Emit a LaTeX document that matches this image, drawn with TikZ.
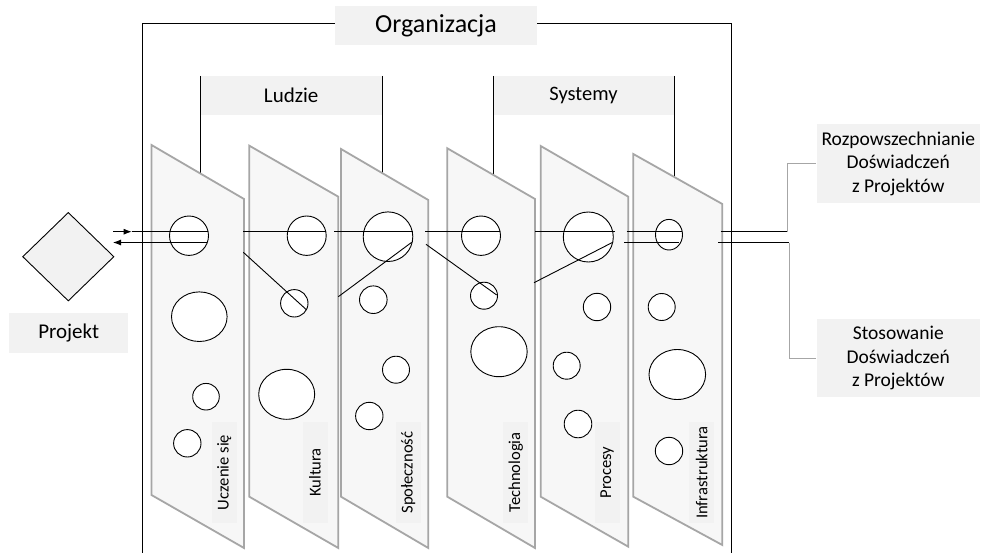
\documentclass[tikz,border=0pt]{standalone}
\usepackage{fontspec}
\setmainfont{Carlito}
\usetikzlibrary{shapes.geometric,arrows.meta}
\begin{document}
\begin{tikzpicture}[x=1pt,y=-1pt,
  frame/.style={draw=black, line width=1pt},
  panel/.style={draw=black!35, line width=1.8pt, fill=black!3, line join=miter},
  hole/.style={draw=black, line width=0.9pt, fill=white, ellipse, inner sep=0pt, outer sep=0pt},
  lbl/.style={fill=black!5, inner sep=0pt, align=center},
  vlbl/.style={fill=black!5, inner sep=0pt, rotate=90, minimum width=101pt, minimum height=25pt, font=\fontsize{16.6}{19}\selectfont},
  conn/.style={draw=black, line width=0.9pt},
  lead/.style={draw=black!35, line width=1pt},
  tip/.style={-{Latex[length=8pt,width=6pt]}}]
\useasboundingbox (0,0) rectangle (981,553);
\fill[white] (0,0) rectangle (981,553);

% Organizacja frame
\coordinate (ob1) at (142,553);
\coordinate (ot1) at (142,24);
\coordinate (ot2) at (731,24);
\coordinate (ob2) at (731,553);
\draw[frame] (ob1) -- (ot1) -- (ot2) -- (ob2);
\node[lbl, minimum width=202pt, minimum height=39pt, font=\fontsize{26}{30}\selectfont] (org) at (436,25.5) {Organizacja};

% group brackets
\coordinate (l1t) at (200.5,76); \coordinate (l1b) at (200.5,185);
\coordinate (l2t) at (382,76); \coordinate (l2b) at (382,185);
\coordinate (s1t) at (493,76); \coordinate (s1b) at (493,185);
\coordinate (s2t) at (674,76); \coordinate (s2b) at (674,185);
\draw[frame] (l1t) -- (l1b); \draw[frame] (l2t) -- (l2b);
\draw[frame] (s1t) -- (s1b); \draw[frame] (s2t) -- (s2b);
\node[lbl, minimum width=181pt, minimum height=39pt, font=\fontsize{21}{25}\selectfont] (ludzie) at (291.2,95.5) {Ludzie};
\node[lbl, minimum width=180pt, minimum height=39pt, font=\fontsize{20.5}{25}\selectfont] (systemy) at (583.5,95.5) {Systemy};

% panels
\draw[panel] (151.5,145) -- (244,199) -- (244,548) -- (151.5,495) -- cycle;
\draw[panel] (249.3,145.7) -- (338.3,196.7) -- (338.3,548) -- (249.3,496.7) -- cycle;
\draw[panel] (341,149) -- (428.3,200) -- (428.3,548) -- (341,496.7) -- cycle;
\draw[panel] (447.3,148.3) -- (535,199) -- (535,548) -- (447.3,496.7) -- cycle;
\draw[panel] (540.7,146) -- (628.3,196.7) -- (628.3,546.7) -- (540.7,496.7) -- cycle;
\draw[panel] (633.3,154) -- (722.3,204) -- (722.3,545) -- (633.3,496.7) -- cycle;

% holes
\node[hole, minimum width=39pt, minimum height=39.4pt] (c11) at (189,235.7) {};
\node[hole, minimum width=55.6pt, minimum height=49.6pt] (c12) at (199.3,316.7) {};
\node[hole, minimum width=26.6pt, minimum height=26.6pt] (c13) at (206,396.7) {};
\node[hole, minimum width=27.4pt, minimum height=27.4pt] (c14) at (187.3,443.3) {};

\node[hole, minimum width=39pt, minimum height=39.4pt] (c21) at (306.7,235.7) {};
\node[hole, minimum width=27.4pt, minimum height=27.4pt] (c22) at (294.3,303.3) {};
\node[hole, minimum width=56pt, minimum height=50pt] (c23) at (286.7,394.3) {};

\node[hole, minimum width=49.6pt, minimum height=49.6pt] (c31) at (388,236.7) {};
\node[hole, minimum width=27.6pt, minimum height=27.6pt] (c32) at (373.3,299.7) {};
\node[hole, minimum width=27pt, minimum height=27pt] (c33) at (396,369.7) {};
\node[hole, minimum width=27.4pt, minimum height=27.4pt] (c34) at (369.3,416) {};

\node[hole, minimum width=39pt, minimum height=39.4pt] (c41) at (481,235.7) {};
\node[hole, minimum width=27pt, minimum height=27pt] (c42) at (484,295.7) {};
\node[hole, minimum width=56.4pt, minimum height=50pt] (c43) at (499,351.7) {};

\node[hole, minimum width=50pt, minimum height=50pt] (c51) at (588.3,237) {};
\node[hole, minimum width=27.4pt, minimum height=27.4pt] (c52) at (597,307) {};
\node[hole, minimum width=27pt, minimum height=27pt] (c53) at (566.7,365.7) {};
\node[hole, minimum width=27.6pt, minimum height=27.6pt] (c54) at (578,424) {};

\node[hole, minimum width=27pt, minimum height=30.6pt] (c61) at (669,234.7) {};
\node[hole, minimum width=27pt, minimum height=27pt] (c62) at (661.7,307) {};
\node[hole, minimum width=56.6pt, minimum height=50pt] (c63) at (677.3,374.5) {};
\node[hole, minimum width=27.4pt, minimum height=27.4pt] (c64) at (669,451) {};

% vertical labels
\node[vlbl] (lu) at (224.2,472.5) {Uczenie się};
\node[vlbl] (lk) at (315,472.5) {Kultura};
\node[vlbl] (ls) at (408.3,472.5) {Społeczność};
\node[vlbl] (lt) at (515.8,472.5) {Technologia};
\node[vlbl] (lp) at (607.2,472.5) {Procesy};
\node[vlbl] (li) at (701.7,472.5) {Infrastruktura};

% Projekt
\node[diamond, draw=black, line width=0.9pt, fill=black!5, minimum width=91.4pt, minimum height=88.6pt, inner sep=0pt] (proj) at (68.3,256.7) {};
\node[lbl, minimum width=119.3pt, minimum height=39.4pt, font=\fontsize{21}{25}\selectfont] (projl) at (68.7,333) {Projekt};

% right labels
\node[lbl, minimum width=163.3pt, minimum height=79.3pt, font=\fontsize{19.5}{23.5}\selectfont] (rozp) at (898.3,163.7) {Rozpowszechnianie\\Doświadczeń\\z Projektów};
\node[lbl, minimum width=163.3pt, minimum height=78pt, font=\fontsize{19.5}{23.5}\selectfont] (stos) at (898.3,358.3) {Stosowanie\\Doświadczeń\\z Projektów};

% connectors: upper line
\coordinate (u0) at (113,231.7); \coordinate (u1) at (131.7,231.7); \coordinate (u2) at (208,231.7);
\coordinate (u3) at (243.3,231.7); \coordinate (u4) at (325.7,231.7);
\coordinate (u5) at (334,231.7); \coordinate (u6) at (412.7,231.7);
\coordinate (u7) at (425,231.7); \coordinate (u8) at (500,231.7);
\coordinate (u9) at (535,231.7); \coordinate (u10) at (615,231.7);
\coordinate (u11) at (626.7,231.7); \coordinate (u12) at (682,231.7);
\coordinate (u13) at (720.7,231.7); \coordinate (u14) at (787.3,231.7);
\draw[conn, tip] (u0) -- (u1);
\draw[conn] (u1) -- (u2);
\draw[conn] (u3) -- (u4);
\draw[conn] (u5) -- (u6);
\draw[conn] (u7) -- (u8);
\draw[conn] (u9) -- (u10);
\draw[conn] (u11) -- (u12);
\draw[conn] (u13) -- (u14);

% lower line
\coordinate (w0) at (206.7,242.5); \coordinate (w1) at (113,242.5);
\coordinate (w2) at (624,242.8); \coordinate (w3) at (679.3,242.8);
\coordinate (w4) at (718,242.8); \coordinate (w5) at (789.3,242.8);
\draw[conn, tip] (w0) -- (w1);
\draw[conn] (w2) -- (w3);
\draw[conn] (w4) -- (w5);

% diagonals
\coordinate (d1a) at (243.3,252.3); \coordinate (d1b) at (306.7,310);
\coordinate (d2a) at (338.3,296.7); \coordinate (d2b) at (411.7,242.3);
\coordinate (d3a) at (426,244.3); \coordinate (d3b) at (496.7,295);
\coordinate (d4a) at (534,282.7); \coordinate (d4b) at (612.7,242.3);
\draw[conn] (d1a) -- (d1b);
\draw[conn] (d2a) -- (d2b);
\draw[conn] (d3a) -- (d3b);
\draw[conn] (d4a) -- (d4b);

% leaders
\draw[lead] (u14) |- (rozp.west);
\draw[lead] (w5) |- (stos.west);
\end{tikzpicture}
\end{document}
